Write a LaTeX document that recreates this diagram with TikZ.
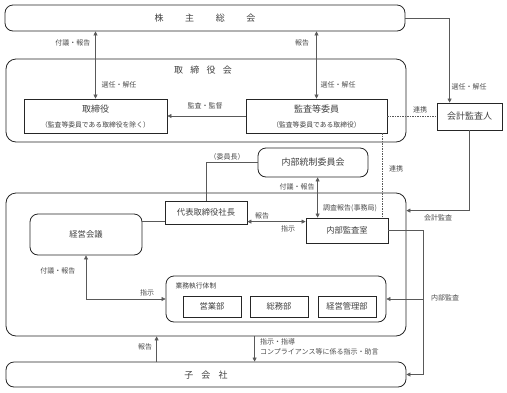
\documentclass[tikz,border=0pt]{standalone}
\usepackage{fontspec}
\setmainfont{Noto Sans CJK JP}
\usetikzlibrary{arrows.meta,calc}
\begin{document}
\begin{tikzpicture}[x=1pt,y=-1pt,
  box/.style={draw=black!85,line width=0.8pt,inner sep=0pt,text=black!75},
  rbox/.style={box,rounded corners=8pt},
  conn/.style={draw=black!65,line width=0.6pt},
  tip/.style={-{Triangle[length=4pt,width=4pt]}},
  dtip/.style={{Triangle[length=4pt,width=4pt]}-{Triangle[length=4pt,width=4pt]}},
  lbl/.style={font=\fontsize{7}{8}\selectfont,text=black!70,inner sep=1pt},
  big/.style={font=\fontsize{9}{11}\selectfont},
  mid/.style={font=\fontsize{8.3}{10}\selectfont},
  sub/.style={font=\fontsize{6.8}{8}\selectfont}
]
\useasboundingbox (0,0) rectangle (507,392);
% containers
\node[rbox,minimum width=400pt,minimum height=26pt] (kabu) at (205,18) {};
\node[big,text=black!75] (kabut) at (205,18) {株\hspace{2.4em}主\hspace{2.4em}総\hspace{2.4em}会};
\node[rbox,rounded corners=10pt,minimum width=400pt,minimum height=83pt] (torikai) at (206,100.5) {};
\node[big,text=black!75] (torikait) at (203,70) {取\hspace{0.8em}締\hspace{0.8em}役\hspace{0.8em}会};
\node[box,minimum width=143pt,minimum height=34pt,align=center] (tori) at (95.5,116) {};
\node[big,text=black!75] (torit) at (95.5,109) {取締役};
\node[sub,text=black!75] (toris) at (95.5,124.5) {（監査等委員である取締役を除く）};
\node[box,minimum width=141pt,minimum height=34pt] (kansa) at (316.5,116) {};
\node[big,text=black!75] (kansat) at (316.5,109) {監査等委員};
\node[sub,text=black!75] (kansas) at (316.5,124.5) {（監査等委員である取締役）};
\node[box,minimum width=65pt,minimum height=27pt,big] (kaikei) at (469.5,116.5) {会計監査人};
\node[rbox,minimum width=110pt,minimum height=29pt,big] (tousei) at (313,162.5) {内部統制委員会};
\node[rbox,rounded corners=10pt,minimum width=400pt,minimum height=143pt] (large) at (206,264.5) {};
\node[box,minimum width=82pt,minimum height=23pt,mid] (daihyo) at (206,212.5) {代表取締役社長};
\node[rbox,minimum width=112pt,minimum height=41pt,mid] (keiei) at (86,234.5) {経営会議};
\node[box,minimum width=82pt,minimum height=25pt,mid] (shitsu) at (347,230.5) {内部監査室};
\node[rbox,minimum width=220pt,minimum height=46pt] (gyomu) at (276,299) {};
\node[sub,text=black!75,anchor=west] (gyomut) at (172,285.5) {業務執行体制};
\node[box,minimum width=58pt,minimum height=21pt,mid] (eigyo) at (212,306.5) {営業部};
\node[box,minimum width=58pt,minimum height=21pt,mid] (somu) at (279,306.5) {総務部};
\node[box,minimum width=58pt,minimum height=21pt,mid] (kanri) at (347,306.5) {経営管理部};
\node[rbox,minimum width=400pt,minimum height=25pt] (ko) at (206,374.5) {};
\node[big,text=black!75] (kot) at (206,375) {子\hspace{0.9em}会\hspace{0.9em}社};
% connectors
\draw[conn,dtip] (tori.north |- kabu.south) -- (tori.north);
\node[lbl] (l1) at (73,43) {付議・報告};
\node[lbl] (l2) at (119,84.5) {選任・解任};
\draw[conn,dtip] (kansa.north |- kabu.south) -- (kansa.north);
\node[lbl] (l3) at (302,43) {報告};
\node[lbl] (l4) at (338,84.5) {選任・解任};
\draw[conn,tip] (kabu.east) -| ($(kaikei.north west)+(13,0)$);
\node[lbl] (l5) at (469,87) {選任・解任};
\draw[conn,tip] (kansa.west) -- (tori.west -| tori.east);
\node[lbl] (l6) at (205,106) {監査・監督};
\draw[conn,dash pattern=on 1.5pt off 1pt] (kansa.east) -- (kansa.east -| kaikei.west);
\node[lbl] (l7) at (420,110) {連携};
\draw[conn,dash pattern=on 1.5pt off 1pt] ($(kansa.south east)+(-5,0)$) coordinate (dv) -- (dv |- shitsu.north);
\node[lbl] (l8) at (396,169) {連携};
\draw[conn,tip] (kaikei.south) |- ($(large.north east)+(0,18)$);
\node[lbl] (l9) at (438,217.5) {会計監査};
\draw[conn] (daihyo.north) |- (tousei.west);
\node[lbl] (l10) at (227,157) {（委員長）};
\draw[conn] ($(daihyo.south west)+(0,-3)$) coordinate (kp) -- (kp -| keiei.east);
\coordinate (hp) at ($(shitsu.north west)+(0,4)$);
\draw[conn,dtip] (daihyo.east |- hp) -- (hp);
\node[lbl] (l11) at (262,216) {報告};
\node[lbl] (l12) at (288,229) {指示};
\coordinate (vp) at ($(shitsu.north west)+(12,0)$);
\draw[conn,dtip] (vp |- tousei.south) -- (vp);
\node[lbl] (l13) at (297,187) {付議・報告};
\node[lbl] (l14) at (350,208) {調査報告(事務局)};
\coordinate (ra) at ($(shitsu.east)+(35,0)$);
\draw[conn,tip] (shitsu.east) -- (ra) |- (ko.east);
\draw[conn,tip] (ra |- gyomu.east) -- (gyomu.east);
\node[lbl] (l15) at (445,298) {内部監査};
\draw[conn,dtip] (keiei.south) |- (gyomu.west);
\node[lbl] (l16) at (58,271) {付議・報告};
\node[lbl] (l17) at (147,293) {指示};
\coordinate (up) at ($(ko.north west)+(151,0)$);
\draw[conn,tip] (up) -- (up |- large.south);
\node[lbl] (l18) at (145,347) {報告};
\coordinate (dp) at ($(large.south west)+(249,0)$);
\draw[conn,tip] (dp) -- (dp |- ko.north);
\node[lbl,anchor=west] (l19) at (259,342) {指示・指導};
\node[lbl,anchor=west] (l20) at (259,352) {コンプライアンス等に係る指示・助言};
\end{tikzpicture}
\end{document}
